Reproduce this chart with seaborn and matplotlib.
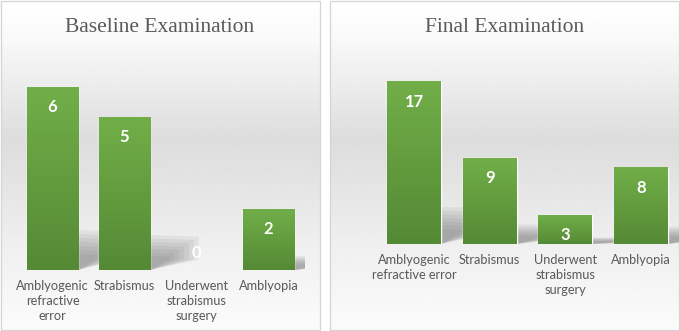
import numpy as np
import matplotlib.pyplot as plt
import seaborn as sns
from matplotlib.colors import LinearSegmentedColormap
from matplotlib.patches import Rectangle, Polygon

# data
baseline_labels = ["Amblyogenic\nrefractive\nerror", "Strabismus",
                   "Underwent\nstrabismus\nsurgery", "Amblyopia"]
final_labels = ["Amblyogenic\nrefractive error", "Strabismus",
                "Underwent\nstrabismus\nsurgery", "Amblyopia"]
baseline_counts = [6, 5, 0, 2]
final_counts = [17, 9, 3, 8]
titles = ["Baseline Examination", "Final Examination"]

sns.set_style("white")
plt.rcParams['font.family'] = ['Lato', 'DejaVu Sans']

W, H = 680, 331
fig = plt.figure(figsize=(W / 100, H / 100), dpi=100)

# background panels with the soft grey band
bg = fig.add_axes([0, 0, 1, 1])
bg.set_xlim(0, W)
bg.set_ylim(H, 0)
bg.axis("off")
yy = np.arange(H)
shade = np.interp(yy, [0, 40, 140, 240, 330], [1.0, 0.975, 0.865, 0.935, 0.985])
grad_bg = np.repeat(shade[:, None], 2, axis=1)
for x0, x1 in [(1, 320), (330, 679)]:
    bg.imshow(grad_bg, extent=(x0, x1, 330, 1), cmap="gray", vmin=0, vmax=1,
              aspect="auto", interpolation="bilinear")
    bg.add_patch(Rectangle((x0, 1), x1 - x0, 329, fill=False,
                           edgecolor="#d4d4d4", lw=0.9))
bg.set_xlim(0, W)
bg.set_ylim(H, 0)

green = LinearSegmentedColormap.from_list("g", ["#71ae48", "#558a35"])
bar_grad = np.linspace(0, 1, 64)[:, None]


def panel(rect, ymax, px_per_unit, labels, values, title_x, title):
    ax = fig.add_axes(rect)
    ax.patch.set_alpha(0)
    sns.barplot(x=labels, y=values, ax=ax, color="#70ad47", width=0.71,
                saturation=1, zorder=3)
    for p, v in zip(ax.patches, values):
        x0, w, h = p.get_x(), p.get_width(), p.get_height()
        if h > 0:
            # soft cast shadow to the right of each bar
            xr = x0 + w
            s = min(0.23 * h, 40 / px_per_unit)
            for k in range(7):
                f = 1.0 - k * 0.1
                pts = [(xr, 0), (xr, s * f),
                       (xr + w * 0.95 * f, s * f * 0.95),
                       (xr + w * 0.95 * f, s * 0.3)]
                ax.add_patch(Polygon(pts, closed=True, facecolor="#6e6e6e",
                                     alpha=0.1, lw=0, zorder=1))
            ax.imshow(bar_grad, extent=(x0, xr, 0, h), cmap=green,
                      aspect="auto", zorder=4, interpolation="bilinear")
        ax.annotate(str(v), (x0 + w / 2, h), xytext=(0, -20 if v > 0 else 17),
                    textcoords="offset pixels", ha="center", va="center",
                    color="white", fontsize=12, fontweight="bold", zorder=5)
    ax.set_xlim(-0.5, len(values) - 0.5)
    ax.set_ylim(0, ymax)
    ax.set_yticks([])
    ax.set_xlabel("")
    ax.set_ylabel("")
    ax.tick_params(axis="x", length=0, pad=7, labelsize=9.2, labelcolor="#595959")
    for lab in ax.get_xticklabels():
        lab.set_linespacing(1.3)
    sns.despine(ax=ax, left=True, bottom=True)
    fig.text(title_x / W, 1 - 27 / H, title, ha="center", va="center",
             family="Liberation Serif", fontsize=15.5, color="#595959")
    return ax


panel([16.5 / W, (H - 270) / H, 288 / W, 220 / H], 220 / 30.5, 30.5,
      baseline_labels, baseline_counts, 160, titles[0])
panel([376.2 / W, (H - 244) / H, 302.6 / W, 194 / H], 194 / 9.53, 9.53,
      final_labels, final_counts, 505, titles[1])

fig.savefig("out.png", dpi=100)
